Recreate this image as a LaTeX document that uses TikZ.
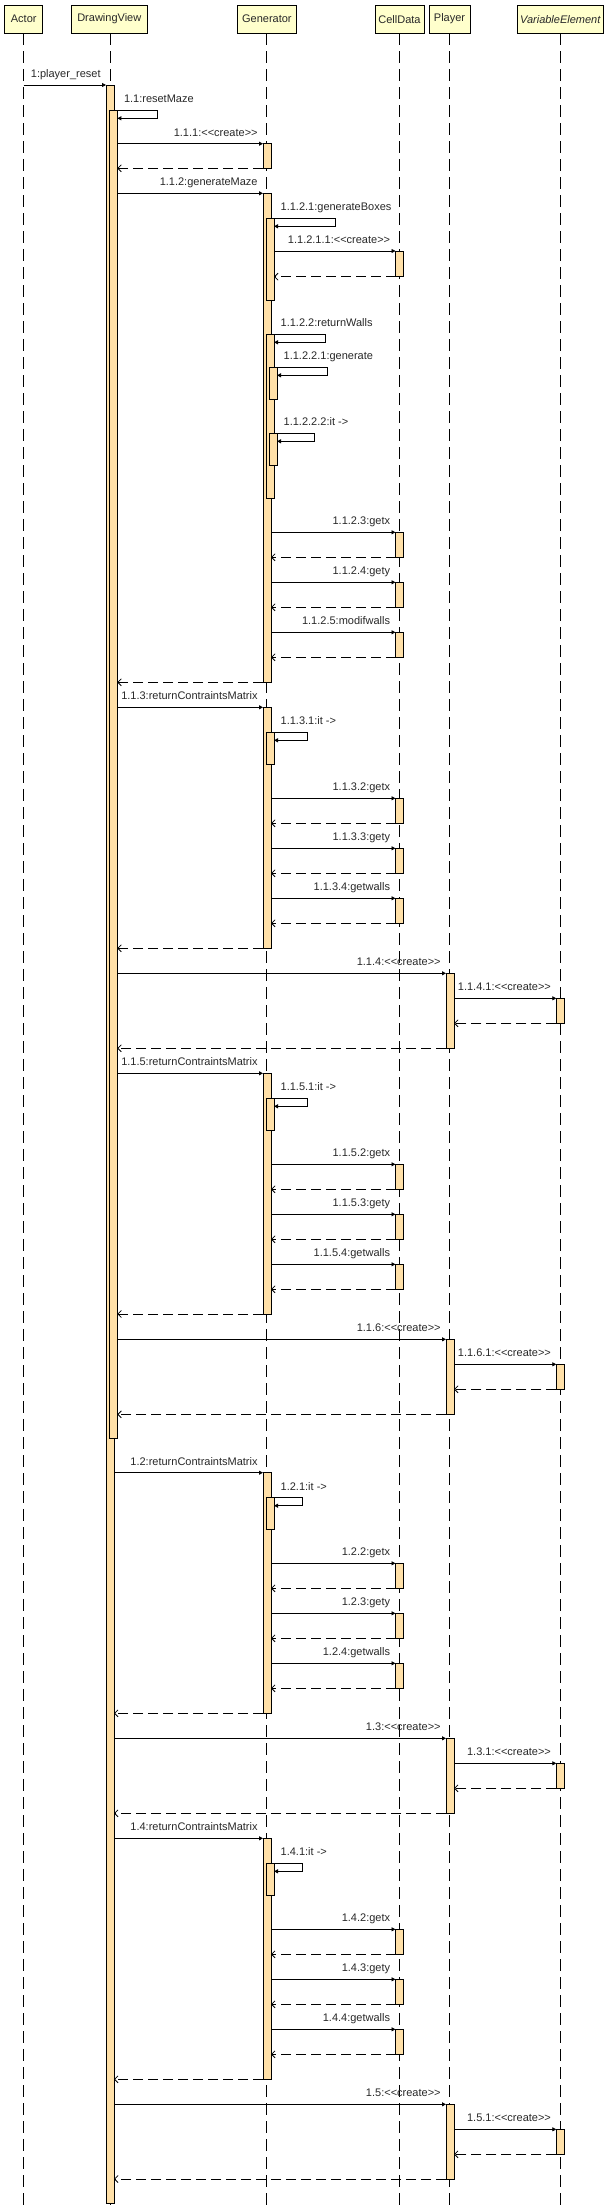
\documentclass[tikz,border=0pt]{standalone}
\usepackage{fontspec}
\setmainfont{Liberation Sans}
\usetikzlibrary{arrows.meta}
\definecolor{headfill}{RGB}{255,255,204}
\definecolor{actfill}{RGB}{255,224,168}
\definecolor{txt}{RGB}{40,40,40}
\newcommand\crea{<\kern0pt<create>\kern0pt>}
\newcommand\actv[4]{\node[actbox, minimum height={#4-#3}] (#1) at (#2,#3) {};}
\newcommand\callmsg[4]{\draw[call] (#1 |- #2.north) -- (#2.north west) node[lbl, anchor=base east, xshift=-5pt, yshift=7.5pt] (#3) {#4};}
\newcommand\retmsg[2]{\draw[ret] (#2.south west) -- (#1 |- #2.south);}
\newcommand\selfmsg[4]{\draw[selfcall] (#1.north east) -- ++(#2,0) -- ++(0,8) -- ++(-#2,0);
 \node[lbl, anchor=base west] (#3) at ([xshift=6.5pt,yshift=7.5pt]#1.north east) {#4};}
\begin{document}
\begin{tikzpicture}[x=1pt,y=-1pt,
 head/.style={draw=black, fill=headfill, line width=0.8pt, inner sep=0pt, outer sep=0pt, font=\fontsize{11}{13}\selectfont, text=txt, anchor=north west},
 life/.style={line width=1pt, dash pattern=on 12pt off 6pt},
 actbox/.style={draw=black, fill=actfill, line width=0.8pt, inner sep=0pt, outer sep=0pt, minimum width=8pt, anchor=north west},
 call/.style={line width=0.8pt, -{Triangle[length=4pt,width=4pt]}},
 ret/.style={line width=0.8pt, dash pattern=on 10pt off 5pt, -{Straight Barb[length=3.5pt,width=7pt]}},
 selfcall/.style={line width=0.8pt, -{Triangle[length=4pt,width=4pt]}},
 lbl/.style={font=\fontsize{11}{13}\selectfont, text=txt, inner sep=0pt},
]
\useasboundingbox (0,0) rectangle (606,2209);
\coordinate (bot) at (0,2209);
% headers
\node[head, minimum width=38pt, minimum height=28.3pt] (hActor) at (4.7,5) {Actor};
\node[head, minimum width=76.6pt, minimum height=28.3pt] (hDV) at (71,5) {DrawingView};
\node[head, minimum width=58.2pt, minimum height=28.3pt] (hGen) at (237.8,5) {Generator};
\node[head, minimum width=49pt, minimum height=28.3pt] (hCell) at (375,5) {CellData};
\node[head, minimum width=41pt, minimum height=28.3pt] (hPlayer) at (429,5) {Player};
\node[head, minimum width=85.5pt, minimum height=28.3pt] (hVE) at (517.5,5) {\itshape VariableElement};
% lifelines
\draw[life] (hActor.south) -- (hActor.south |- bot);
\draw[life] ([xshift=1pt]hDV.south) -- ([xshift=1pt]hDV.south |- bot);
\draw[life] (hGen.south) -- (hGen.south |- bot);
\draw[life] (hCell.south) -- (hCell.south |- bot);
\draw[life] (hPlayer.south) -- (hPlayer.south |- bot);
\draw[life] (hVE.south) -- (hVE.south |- bot);
% activations
\actv{dvA}{106}{85}{2203.3}
\actv{dvB}{109.3}{110.3}{1438.3}
\actv{g1}{263}{143.7}{168.3}
\actv{g2}{263}{193.3}{682.3}
\actv{g2a}{266}{218.3}{300}
\actv{c1}{395.5}{251}{276.7}
\actv{g2b}{266}{334.3}{498.3}
\actv{g2ba}{269}{367.3}{399.3}
\actv{g2bb}{269}{433.3}{465.3}
\actv{c2}{395.5}{532.3}{557.3}
\actv{c3}{395.5}{582.3}{607.3}
\actv{c4}{395.5}{632.3}{657.3}
\actv{g3}{263}{707.3}{948.3}
\actv{g3a}{266}{732.3}{764.3}
\actv{c5}{395.5}{798.3}{823.3}
\actv{c6}{395.5}{848.3}{873.3}
\actv{c7}{395.5}{898.3}{923.3}
\actv{p1}{446}{973.3}{1048.3}
\actv{v1}{556.3}{998.3}{1023.3}
\actv{g4}{263}{1073.3}{1314}
\actv{g4a}{266}{1098.3}{1130}
\actv{c8}{395.5}{1164.3}{1189.3}
\actv{c9}{395.5}{1214.3}{1239.3}
\actv{c10}{395.5}{1264.3}{1289.3}
\actv{p2}{446}{1339.3}{1414.3}
\actv{v2}{556.3}{1364.3}{1389.3}
\actv{g5}{263}{1472.7}{1713.3}
\actv{g5a}{266}{1497.7}{1529.3}
\actv{c11}{395.5}{1563.3}{1588.3}
\actv{c12}{395.5}{1613.3}{1638.3}
\actv{c13}{395.5}{1663.3}{1688.3}
\actv{p3}{446}{1738.3}{1813.3}
\actv{v3}{556.3}{1763.3}{1788.3}
\actv{g6}{263}{1838.3}{2079.3}
\actv{g6a}{266}{1863.3}{1895}
\actv{c14}{395.5}{1929.3}{1954.3}
\actv{c15}{395.5}{1979.3}{2004.3}
\actv{c16}{395.5}{2029.3}{2054.3}
\actv{p4}{446}{2104.3}{2179}
\actv{v4}{556.3}{2129.3}{2154.3}
% messages
\callmsg{hActor.south}{dvA}{m1}{1:player\_reset}
\selfmsg{dvB}{40}{m11}{1.1:resetMaze}
\callmsg{dvB.east}{g1}{m111}{1.1.1:\crea}
\retmsg{dvB.east}{g1}
\callmsg{dvB.east}{g2}{m112}{1.1.2:generateMaze}
\selfmsg{g2a}{61}{m1121}{1.1.2.1:generateBoxes}
\callmsg{g2a.east}{c1}{m11211}{1.1.2.1.1:\crea}
\retmsg{g2a.east}{c1}
\selfmsg{g2b}{51.3}{m1122}{1.1.2.2:returnWalls}
\selfmsg{g2ba}{50.5}{m11221}{1.1.2.2.1:generate}
\selfmsg{g2bb}{37}{m11222}{1.1.2.2.2:it ->}
\callmsg{g2.east}{c2}{m1123}{1.1.2.3:getx}
\retmsg{g2.east}{c2}
\callmsg{g2.east}{c3}{m1124}{1.1.2.4:gety}
\retmsg{g2.east}{c3}
\callmsg{g2.east}{c4}{m1125}{1.1.2.5:modifwalls}
\retmsg{g2.east}{c4}
\retmsg{dvB.east}{g2}
\callmsg{dvB.east}{g3}{m113}{1.1.3:returnContraintsMatrix}
\selfmsg{g3a}{33.4}{m1131}{1.1.3.1:it ->}
\callmsg{g3.east}{c5}{m1132}{1.1.3.2:getx}
\retmsg{g3.east}{c5}
\callmsg{g3.east}{c6}{m1133}{1.1.3.3:gety}
\retmsg{g3.east}{c6}
\callmsg{g3.east}{c7}{m1134}{1.1.3.4:getwalls}
\retmsg{g3.east}{c7}
\retmsg{dvB.east}{g3}
\callmsg{dvB.east}{p1}{m114}{1.1.4:\crea}
\callmsg{p1.east}{v1}{m1141}{1.1.4.1:\crea}
\retmsg{p1.east}{v1}
\retmsg{dvB.east}{p1}
\callmsg{dvB.east}{g4}{m115}{1.1.5:returnContraintsMatrix}
\selfmsg{g4a}{33.4}{m1151}{1.1.5.1:it ->}
\callmsg{g4.east}{c8}{m1152}{1.1.5.2:getx}
\retmsg{g4.east}{c8}
\callmsg{g4.east}{c9}{m1153}{1.1.5.3:gety}
\retmsg{g4.east}{c9}
\callmsg{g4.east}{c10}{m1154}{1.1.5.4:getwalls}
\retmsg{g4.east}{c10}
\retmsg{dvB.east}{g4}
\callmsg{dvB.east}{p2}{m116}{1.1.6:\crea}
\callmsg{p2.east}{v2}{m1161}{1.1.6.1:\crea}
\retmsg{p2.east}{v2}
\retmsg{dvB.east}{p2}
\callmsg{dvA.east}{g5}{m12}{1.2:returnContraintsMatrix}
\selfmsg{g5a}{28.4}{m121}{1.2.1:it ->}
\callmsg{g5.east}{c11}{m122}{1.2.2:getx}
\retmsg{g5.east}{c11}
\callmsg{g5.east}{c12}{m123}{1.2.3:gety}
\retmsg{g5.east}{c12}
\callmsg{g5.east}{c13}{m124}{1.2.4:getwalls}
\retmsg{g5.east}{c13}
\retmsg{dvA.east}{g5}
\callmsg{dvA.east}{p3}{m13}{1.3:\crea}
\callmsg{p3.east}{v3}{m131}{1.3.1:\crea}
\retmsg{p3.east}{v3}
\retmsg{dvA.east}{p3}
\callmsg{dvA.east}{g6}{m14}{1.4:returnContraintsMatrix}
\selfmsg{g6a}{28.4}{m141}{1.4.1:it ->}
\callmsg{g6.east}{c14}{m142}{1.4.2:getx}
\retmsg{g6.east}{c14}
\callmsg{g6.east}{c15}{m143}{1.4.3:gety}
\retmsg{g6.east}{c15}
\callmsg{g6.east}{c16}{m144}{1.4.4:getwalls}
\retmsg{g6.east}{c16}
\retmsg{dvA.east}{g6}
\callmsg{dvA.east}{p4}{m15}{1.5:\crea}
\callmsg{p4.east}{v4}{m151}{1.5.1:\crea}
\retmsg{p4.east}{v4}
\retmsg{dvA.east}{p4}
\end{tikzpicture}
\end{document}
